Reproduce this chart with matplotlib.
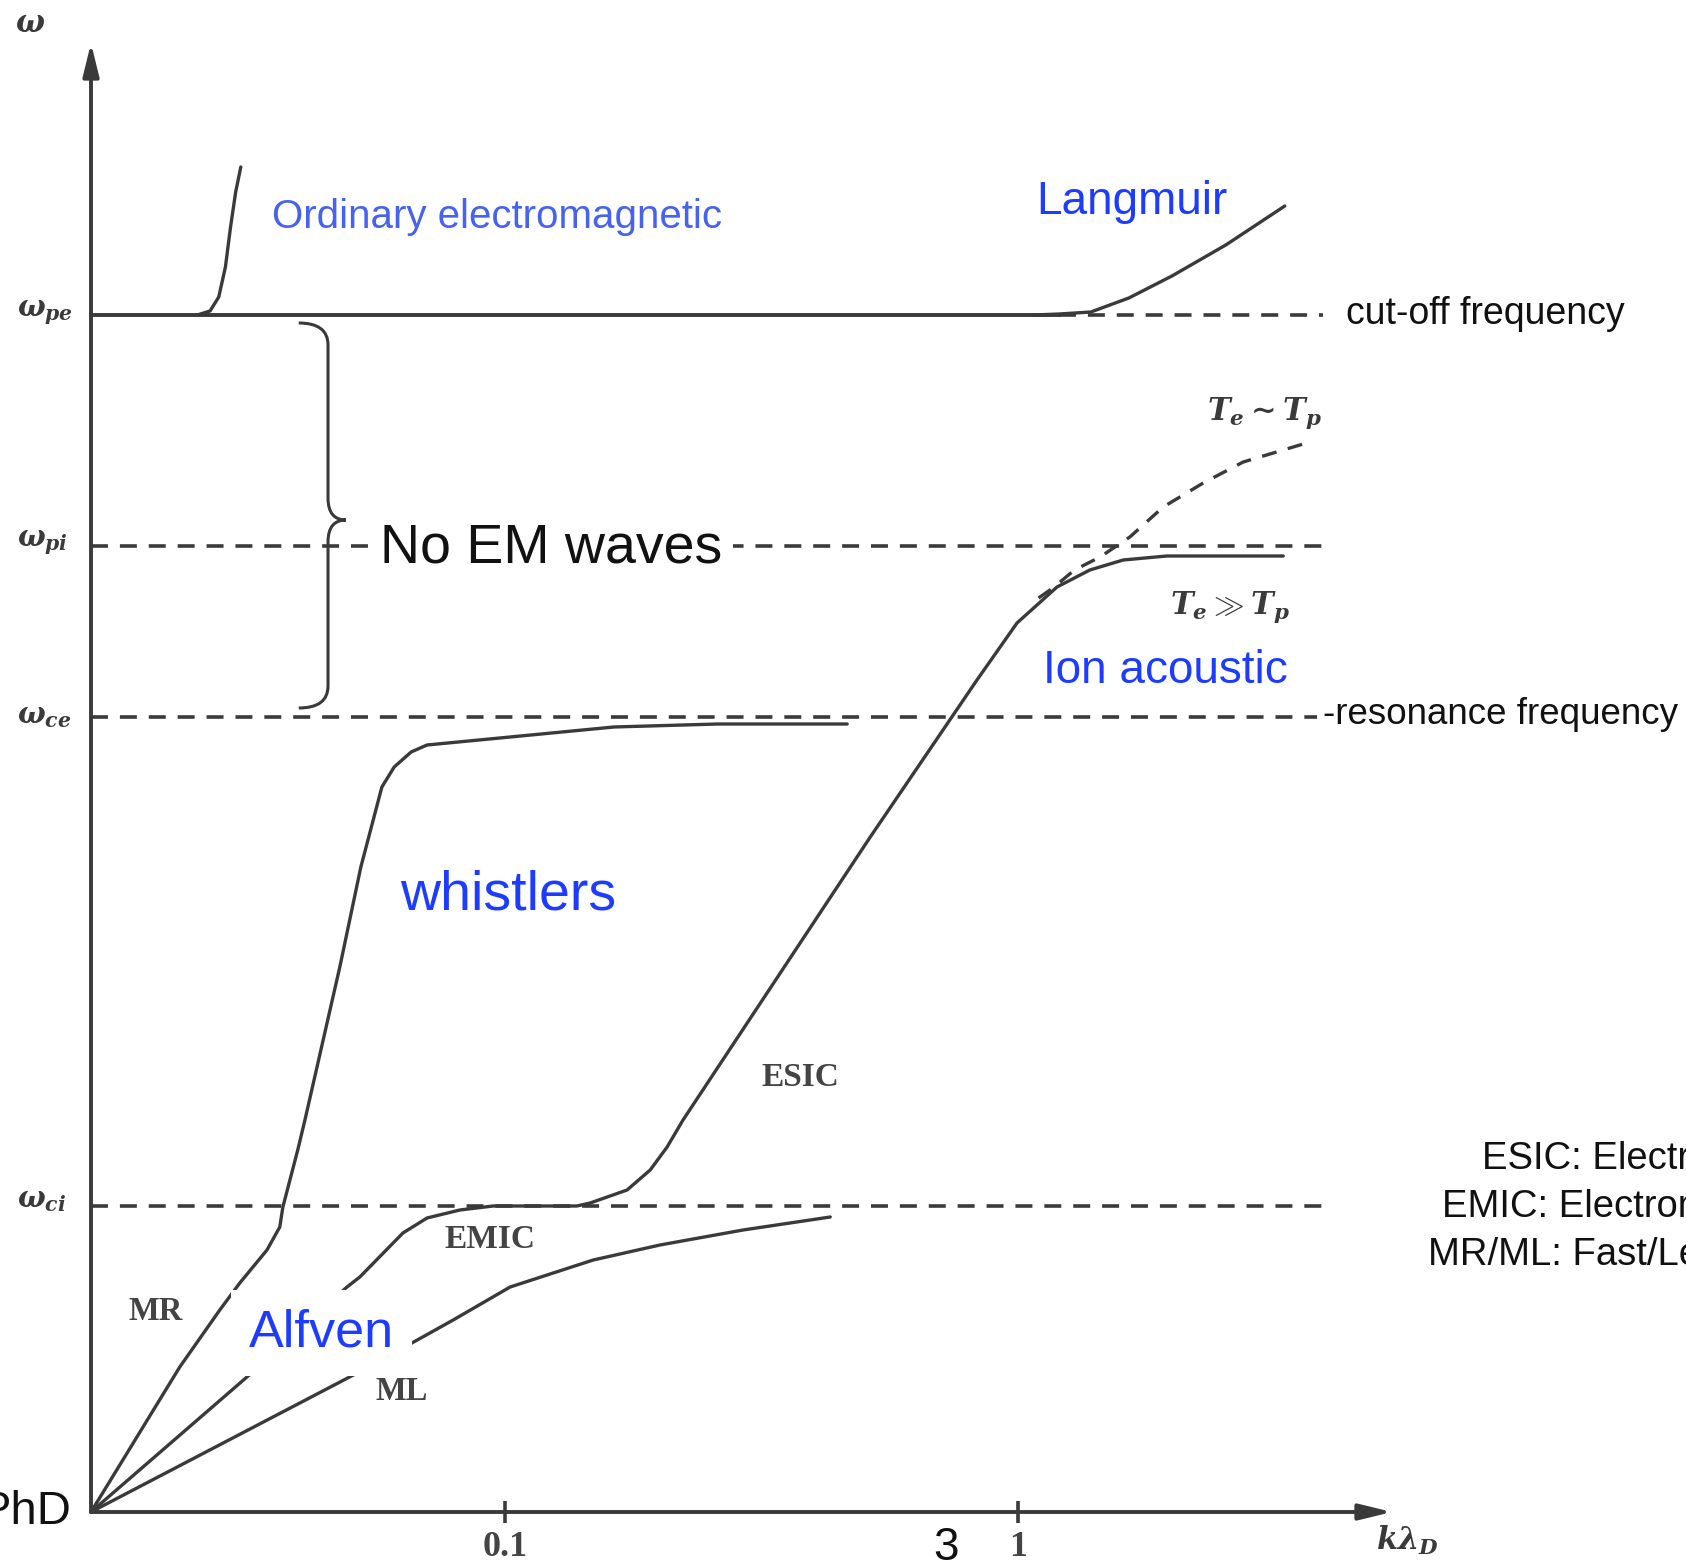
import numpy as np
import matplotlib
matplotlib.use('Agg')
import matplotlib.pyplot as plt
from matplotlib.path import Path
from matplotlib.patches import PathPatch

plt.rcParams['font.family'] = ['Liberation Sans', 'DejaVu Sans']
plt.rcParams['mathtext.fontset'] = 'custom'
plt.rcParams['mathtext.rm'] = 'DejaVu Serif:bold'
plt.rcParams['mathtext.it'] = 'DejaVu Serif:italic:bold'
plt.rcParams['mathtext.bf'] = 'DejaVu Serif:bold'

# x = log10(k lambda_D) (schematic), y = omega (schematic units)
x_origin = -1.807
x_end = 0.729
y_top = 14.69

# characteristic frequencies
w_pe = 11.97
w_pi = 9.66
w_ce = 7.95
w_ci = 3.06

# horizontal reference lines: (level, x start, x end)
ref_dashed = [(w_pe, 0.08, 0.595), (w_pi, x_origin, 0.595),
              (w_ce, x_origin, 0.583), (w_ci, x_origin, 0.600)]
pe_solid_end = 0.08

# ordinary EM wave
em_x = [-1.600, -1.575, -1.558, -1.545, -1.535, -1.525, -1.515]
em_y = [11.97, 12.01, 12.15, 12.45, 12.85, 13.20, 13.45]

# Langmuir
lang_x = [0.030, 0.080, 0.142, 0.216, 0.300, 0.405, 0.520]
lang_y = [11.97, 11.98, 12.00, 12.14, 12.36, 12.67, 13.06]

# MR -> whistler branch
mr_x = [-1.807, -1.634, -1.556, -1.517, -1.464, -1.439, -1.433,
        -1.404, -1.390, -1.322, -1.281, -1.240, -1.216, -1.183, -1.152,
        -0.990, -0.788, -0.585, -0.333]
mr_y = [0.00, 1.45, 2.02, 2.29, 2.62, 2.85, 3.05,
        3.62, 3.92, 5.45, 6.45, 7.25, 7.45, 7.60, 7.67,
        7.75, 7.85, 7.88, 7.88]

# EMIC -> ESIC -> ion acoustic branch
ion_x = [-1.807, -1.503, -1.308, -1.283, -1.199, -1.152, -1.088,
         -1.023, -0.860, -0.834, -0.762, -0.717, -0.684, -0.653, -0.288,
         -0.080, -0.002, 0.076, 0.140, 0.205, 0.290, 0.517]
ion_y = [0.00, 1.35, 2.25, 2.35, 2.79, 2.94, 3.02,
         3.06, 3.06, 3.09, 3.22, 3.42, 3.65, 3.92, 6.75,
         8.32, 8.89, 9.25, 9.42, 9.52, 9.56, 9.56]

# ML branch
ml_x = [-1.807, -1.288, -1.171, -1.101, -0.990, -0.828, -0.698,
        -0.536, -0.366]
ml_y = [0.00, 1.39, 1.72, 1.92, 2.25, 2.52, 2.67, 2.82, 2.95]

# ion acoustic for Te ~ Tp
tt_x = [0.040, 0.068, 0.110, 0.160, 0.218, 0.283, 0.361, 0.439, 0.569]
tt_y = [9.14, 9.24, 9.42, 9.55, 9.75, 10.05, 10.29, 10.50, 10.70]

# k lambda_D ticks
tick_pos = [-1.0, 0.0]
tick_lab = ['0.1', '1']

# brace spanning the gap between w_pe and w_ce
brace_top = 11.89
brace_bot = 8.04
brace_mid = 9.92
brace_tip, brace_spine, brace_point = -1.402, -1.345, -1.310

ink = '#3a3a3a'
blue = '#1d3cff'

fig = plt.figure(figsize=(16.86, 15.67), dpi=100)
ax = fig.add_axes([0, 0, 1, 1])
ax.set_xlim(-1.9844, 1.3021)
ax.set_ylim(-0.55, 15.12)
ax.axis('off')

# axes with arrow heads
arrow = dict(arrowstyle='-|>,head_length=0.9,head_width=0.22', lw=2.8,
             color=ink, mutation_scale=22, shrinkA=0, shrinkB=0)
ax.annotate('', xy=(x_origin, y_top), xytext=(x_origin, 0), arrowprops=arrow)
ax.annotate('', xy=(x_end, 0), xytext=(x_origin, 0), arrowprops=arrow)
for t in tick_pos:
    ax.plot([t, t], [-0.11, 0.11], color=ink, lw=2.6, solid_capstyle='butt')

dash = (0, (4.7, 3.3))
for lev, xa, xb in ref_dashed:
    ax.plot([xa, xb], [lev, lev], color=ink, lw=2.6, linestyle=dash)
ax.plot([x_origin, pe_solid_end], [w_pe, w_pe], color=ink, lw=2.8)

curve = dict(color=ink, lw=2.4, solid_joinstyle='round', solid_capstyle='round')
ax.plot(em_x, em_y, **curve)
ax.plot(lang_x, lang_y, **curve)
ax.plot(mr_x, mr_y, **curve)
ax.plot(ion_x, ion_y, **curve)
ax.plot(ml_x, ml_y, **curve)
ax.plot(tt_x, tt_y, color=ink, lw=2.4, linestyle=(0, (4.5, 3.5)))

# curly brace
d = 0.22
verts = [(brace_tip, brace_top), (brace_spine, brace_top), (brace_spine, brace_top - d),
         (brace_spine, brace_mid + d),
         (brace_spine, brace_mid), (brace_point, brace_mid),
         (brace_spine, brace_mid), (brace_spine, brace_mid - d),
         (brace_spine, brace_bot + d),
         (brace_spine, brace_bot), (brace_tip, brace_bot)]
codes = [Path.MOVETO, Path.CURVE3, Path.CURVE3, Path.LINETO,
         Path.CURVE3, Path.CURVE3, Path.CURVE3, Path.CURVE3, Path.LINETO,
         Path.CURVE3, Path.CURVE3]
ax.add_patch(PathPatch(Path(verts, codes), fc='none', ec=ink, lw=2.2))

# frequency labels on the vertical axis
ax.text(-1.926, 14.88, r'$\omega$', fontsize=22, color=ink, ha='center', va='center')
for lab, lev in [(r'$\omega_{pe}$', w_pe + 0.02), (r'$\omega_{pi}$', w_pi + 0.03),
                 (r'$\omega_{ce}$', w_ce + 0.01), (r'$\omega_{ci}$', w_ci + 0.06)]:
    ax.text(-1.951, lev, lab, fontsize=21, color=ink, ha='left', va='center')

# labels from the original sketch
serif = dict(family='Liberation Serif', weight='bold', color='#444444',
             ha='center', va='center')
ax.text(-0.425, 4.35, 'ESIC', fontsize=24, **serif)
ax.text(-1.029, 2.72, 'EMIC', fontsize=24, **serif)
ax.text(-1.682, 2.00, 'MR', fontsize=23.5, **serif)
ax.text(-1.201, 1.20, 'ML', fontsize=23.5, **serif)
ax.text(0.481, 10.99, r'$T_e \sim T_p$', fontsize=22, color=ink, ha='center', va='center')
ax.text(0.413, 9.05, r'$T_e \gg T_p$', fontsize=22, color=ink, ha='center', va='center')
ax.text(0.760, -0.28, r'$k\lambda_D$', fontsize=22, color=ink, ha='center', va='center')
for t, lab in zip(tick_pos, tick_lab):
    ax.text(t, -0.36, lab, fontsize=26, **serif)

# overlay annotations
box = dict(boxstyle='square,pad=0.2', fc='white', ec='none')
ax.text(-1.454, 12.95, 'Ordinary electromagnetic', fontsize=29, color='#4662ee',
        ha='left', va='center', bbox=box)
ax.text(0.035, 13.10, 'Langmuir', fontsize=33, color=blue, ha='left', va='center', bbox=box)
ax.text(0.049, 8.41, 'Ion acoustic', fontsize=33, color=blue, ha='left', va='center', bbox=box)
ax.text(-1.205, 6.17, 'whistlers', fontsize=40, color=blue, ha='left', va='center', bbox=box)
ax.text(-1.499, 1.79, 'Alfven', fontsize=37.5, color=blue, ha='left', va='center',
        bbox=dict(boxstyle='square,pad=0.35', fc='white', ec='none'))
ax.text(-1.244, 9.64, 'No EM waves', fontsize=40, color='#111111', ha='left', va='center',
        bbox=box)
ax.text(0.639, 11.98, 'cut-off frequency', fontsize=27, color='#111111', ha='left', va='center')
ax.text(0.595, 7.98, '-resonance frequency', fontsize=26.5, color='#111111',
        ha='left', va='center')
ax.text(-0.140, -0.36, '3', fontsize=33, color='#111111', ha='center', va='center')
ax.text(-1.846, 0.0, 'PhD', fontsize=34, color='#111111', ha='right', va='center')

notes = ['ESIC: Electrostatic ion cyclotron',
         'EMIC: Electromagnetic ion cyclotron',
         'MR/ML: Fast/Left magnetosonic']
for (nx, ny), s in zip([(0.904, 3.53), (0.827, 3.05), (0.799, 2.57)], notes):
    ax.text(nx, ny, s, fontsize=27.5, color='#111111', ha='left', va='center')

fig.savefig('out.png', dpi=100, facecolor='white')
